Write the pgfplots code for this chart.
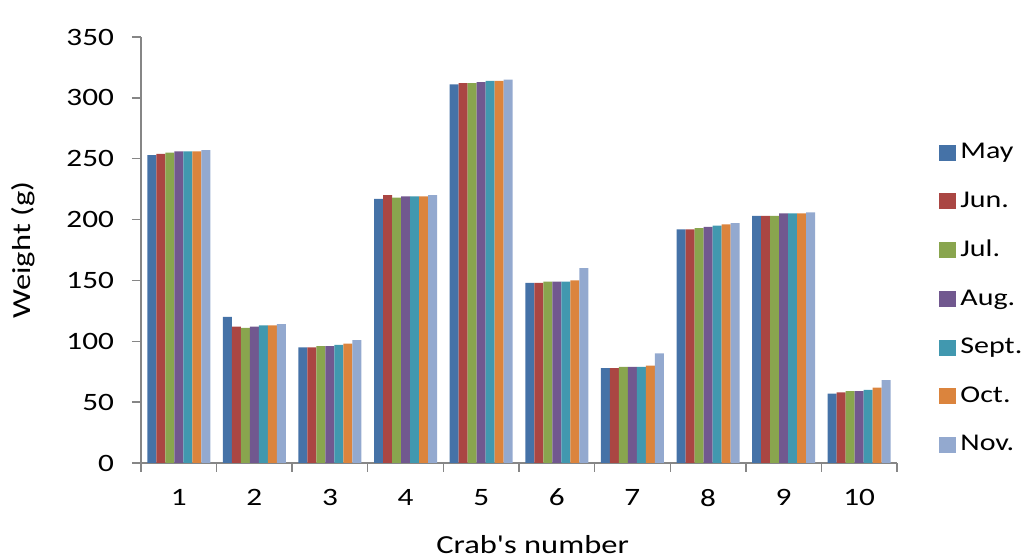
\documentclass[border=0pt]{standalone}
\usepackage{fontspec}
\setmainfont[FakeStretch=1.25, Ligatures=TeXOff]{Carlito}
\usepackage{pgfplots}
\usepackage{pgfplotstable}
\pgfplotsset{compat=1.18}

\definecolor{cMay}{HTML}{4572A7}
\definecolor{cJun}{HTML}{AA4643}
\definecolor{cJul}{HTML}{89A54E}
\definecolor{cAug}{HTML}{71588F}
\definecolor{cSep}{HTML}{4198AF}
\definecolor{cOct}{HTML}{DB843D}
\definecolor{cNov}{HTML}{93A9CF}
\definecolor{axisgray}{HTML}{868686}

% Monthly weight (g) of each crab
\pgfplotstableread{
crab may jun jul aug sep oct nov
1  253 254 255 256 256 256 257
2  120 112 111 112 113 113 114
3  95  95  96  96  97  98  101
4  217 220 218 219 219 219 220
5  311 312 312 313 314 314 315
6  148 148 149 149 149 150 160
7  78  78  79  79  79  80  90
8  192 192 193 194 195 196 197
9  203 203 203 205 205 205 206
10 57  58  59  59  60  62  68
}\crabdata

\begin{document}
\begin{tikzpicture}
% fixed page frame around the plot area
\path[use as bounding box] (-70.5pt,-48.5pt) rectangle (441.5pt,231.5pt);
\begin{axis}[
  scale only axis,
  width=378pt, height=213pt,
  xmin=0.5, xmax=10.5, ymin=0, ymax=350,
  ybar=0pt, bar width=4.5pt,
  axis x line*=bottom, axis y line*=left,
  axis line style={draw=axisgray, line width=0.7pt, -},
  xtick={1,...,10},
  minor xtick={0.5,1.5,...,10.5},
  ytick={0,50,...,350},
  tick align=outside,
  major x tick style={draw=none},
  minor x tick style={draw=axisgray, line width=0.7pt},
  major y tick style={draw=axisgray, line width=0.7pt},
  major tick length=4.5pt, minor tick length=4.5pt,
  tick label style={font=\fontsize{12.5}{14}\selectfont, text=black},
  /pgf/number format/assume math mode=true,
  yticklabel style={xshift=-5.5pt},
  xticklabel style={yshift=-5pt},
  xlabel={Crab's number},
  ylabel={Weight (g)},
  label style={font=\fontsize{13}{15}\selectfont},
  xlabel style={at={(axis description cs:0.518,-0.192)}, anchor=center},
  ylabel style={at={(axis description cs:-0.156,0.5)}, anchor=center},
  legend style={at={(axis description cs:1,1)}, anchor=north west,
    xshift=21pt, yshift=-51pt, draw=none, fill=none,
    font=\fontsize{12}{14}\selectfont,
    row sep=11pt, inner sep=0pt},
  legend cell align=left,
  legend image code/.code={\fill[#1] (0pt,-4pt) rectangle (8.5pt,4pt);},
]
\addplot[fill=cMay, draw=none] table[x=crab, y=may] {\crabdata};
\addplot[fill=cJun, draw=none] table[x=crab, y=jun] {\crabdata};
\addplot[fill=cJul, draw=none] table[x=crab, y=jul] {\crabdata};
\addplot[fill=cAug, draw=none] table[x=crab, y=aug] {\crabdata};
\addplot[fill=cSep, draw=none] table[x=crab, y=sep] {\crabdata};
\addplot[fill=cOct, draw=none] table[x=crab, y=oct] {\crabdata};
\addplot[fill=cNov, draw=none] table[x=crab, y=nov] {\crabdata};
\legend{May, Jun., Jul., Aug., Sept., Oct., Nov.}
\end{axis}
\end{tikzpicture}
\end{document}
